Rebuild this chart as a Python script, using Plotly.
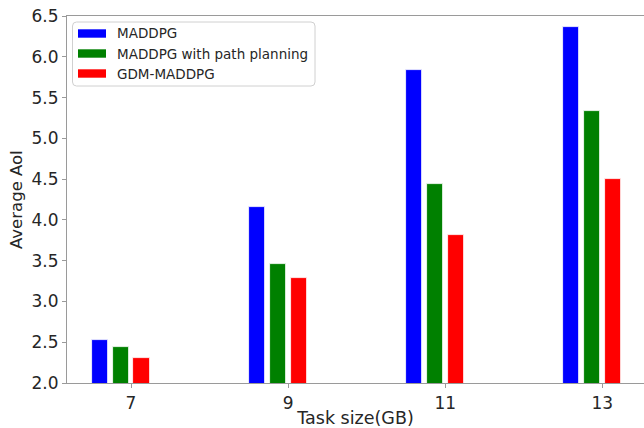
import plotly.graph_objects as go

# Average AoI per task size for the three schemes
task_sizes = [7, 9, 11, 13]
maddpg = [2.53, 4.16, 5.84, 6.36]
maddpg_path = [2.44, 3.46, 4.44, 5.33]
gdm_maddpg = [2.31, 3.29, 3.82, 4.50]

series_names = ["MADDPG", "MADDPG with path planning", "GDM-MADDPG"]
series_colors = ["#0000ff", "#008000", "#ff0000"]
series_offsets = [-0.40, -0.133, 0.133]
bar_width = 0.205

y_ticks = [2.0, 2.5, 3.0, 3.5, 4.0, 4.5, 5.0, 5.5, 6.0, 6.5]

W, H = 644, 428
ML, MT, MR, MB = 67, 16, 0, 45
PW, PH = W - ML - MR, H - MT - MB

FONT = "DejaVu Sans"
TEXT = "#262626"
SPINE = "#9a9a9a"

fig = go.Figure()
for name, vals, col, off in zip(series_names, [maddpg, maddpg_path, gdm_maddpg],
                                series_colors, series_offsets):
    fig.add_trace(go.Bar(
        x=[t + off for t in task_sizes], y=vals, width=bar_width, name=name,
        marker=dict(color=col, line=dict(color="white", width=0.8)),
        showlegend=False,
    ))


def px_x(px):
    return (px - ML) / PW


def px_y(py):
    return (H - MB - py) / PH


# legend box drawn in pixel-derived paper coordinates
shapes = []
x0, x1, y0, y1, r = px_x(72.5), px_x(315), px_y(22), px_y(86), 4
rx, ry = r / PW, r / PH
path = (f"M {x0+rx},{y0} L {x1-rx},{y0} Q {x1},{y0} {x1},{y0-ry} "
        f"L {x1},{y1+ry} Q {x1},{y1} {x1-rx},{y1} L {x0+rx},{y1} "
        f"Q {x0},{y1} {x0},{y1+ry} L {x0},{y0-ry} Q {x0},{y0} {x0+rx},{y0} Z")
shapes.append(dict(type="path", xref="paper", yref="paper", path=path,
                   line=dict(color="#d0d0d0", width=1), fillcolor="rgba(255,255,255,0.85)"))
annotations = []
row_y = [33.5, 53.5, 73.5]
for name, col, cy in zip(series_names, series_colors, row_y):
    shapes.append(dict(type="rect", xref="paper", yref="paper",
                       x0=px_x(78), x1=px_x(106), y0=px_y(cy - 4.2), y1=px_y(cy + 4.2),
                       line=dict(width=0), fillcolor=col))
    annotations.append(dict(xref="paper", yref="paper", x=px_x(115), y=px_y(cy),
                            xanchor="left", yanchor="middle", showarrow=False, text=name,
                            font=dict(family=FONT, size=13.5, color=TEXT)))

fig.update_layout(
    width=W, height=H,
    margin=dict(l=ML, r=MR, t=MT, b=MB),
    paper_bgcolor="white", plot_bgcolor="white",
    bargap=0,
    shapes=shapes, annotations=annotations,
    font=dict(family=FONT, color=TEXT),
    xaxis=dict(
        range=[6.185, 13.53], tickvals=task_sizes, ticktext=[str(t) for t in task_sizes],
        showgrid=False, zeroline=False, showline=True, linecolor=SPINE, linewidth=1.2,
        mirror=True, ticks="outside", ticklen=4, tickcolor=SPINE,
        tickfont=dict(family=FONT, size=17, color=TEXT),
        title=dict(text="Task size(GB)", font=dict(family=FONT, size=17.5, color=TEXT), standoff=2),
    ),
    yaxis=dict(
        range=[2.0, 6.5], tickvals=y_ticks, ticktext=[f"{v:.1f}" for v in y_ticks],
        showgrid=False, zeroline=False, showline=True, linecolor=SPINE, linewidth=1.2,
        ticks="outside", ticklen=4, tickcolor=SPINE,
        tickfont=dict(family=FONT, size=17, color=TEXT),
        title=dict(text="Average AoI", font=dict(family=FONT, size=16.5, color=TEXT), standoff=4),
    ),
)

fig.write_html("out.html")
